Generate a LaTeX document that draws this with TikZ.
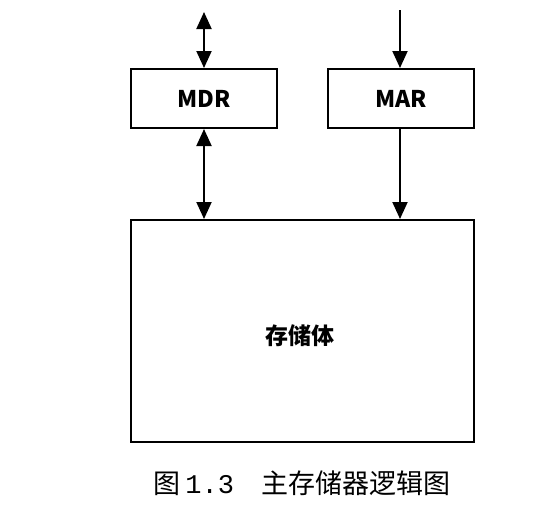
\documentclass[tikz,border=0pt]{standalone}
\usepackage{fontspec}
\newfontfamily\cjk{Noto Sans CJK SC}
\newfontfamily\digits{Liberation Mono}
\usetikzlibrary{arrows.meta}

\begin{document}
\begin{tikzpicture}[x=1pt,y=-1pt,>={Triangle[width=15pt,length=17pt]},
    reg/.style={draw,line width=2pt,minimum width=146pt,minimum height=59pt,inner sep=0pt,font=\cjk\bfseries\fontsize{23}{23}\selectfont},
    bus/.style={line width=2pt}]
      \useasboundingbox (0,0) rectangle (554,517);
      \node[reg] (mdr) at (204,98.5) {MDR};
      \node[reg] (mar) at (401,98.5) {MAR};
      \node[draw,line width=2pt,minimum width=343pt,minimum height=222pt,inner sep=0pt] (mem) at (302.5,331) {};
      \node[font=\cjk\bfseries\fontsize{23}{23}\selectfont] (memtext) at (300,336) {存储体};
      \coordinate (mdrtop) at (204,12);
      \coordinate (martop) at (400,10);
      \draw[bus,<->] (mdrtop) -- (mdr.north);
      \draw[bus,<->] (mdr.south) -- (mdr.south |- mem.north);
      \draw[bus,->] (martop) -- (martop |- mar.north);
      \draw[bus,->] (martop |- mar.south) -- (martop |- mem.north);
      \node[font=\cjk\fontsize{27}{27}\selectfont] (caption) at (302,483) {图\,{\digits 1.3}\hspace{27pt}主存储器逻辑图};
    \end{tikzpicture}
\end{document}
